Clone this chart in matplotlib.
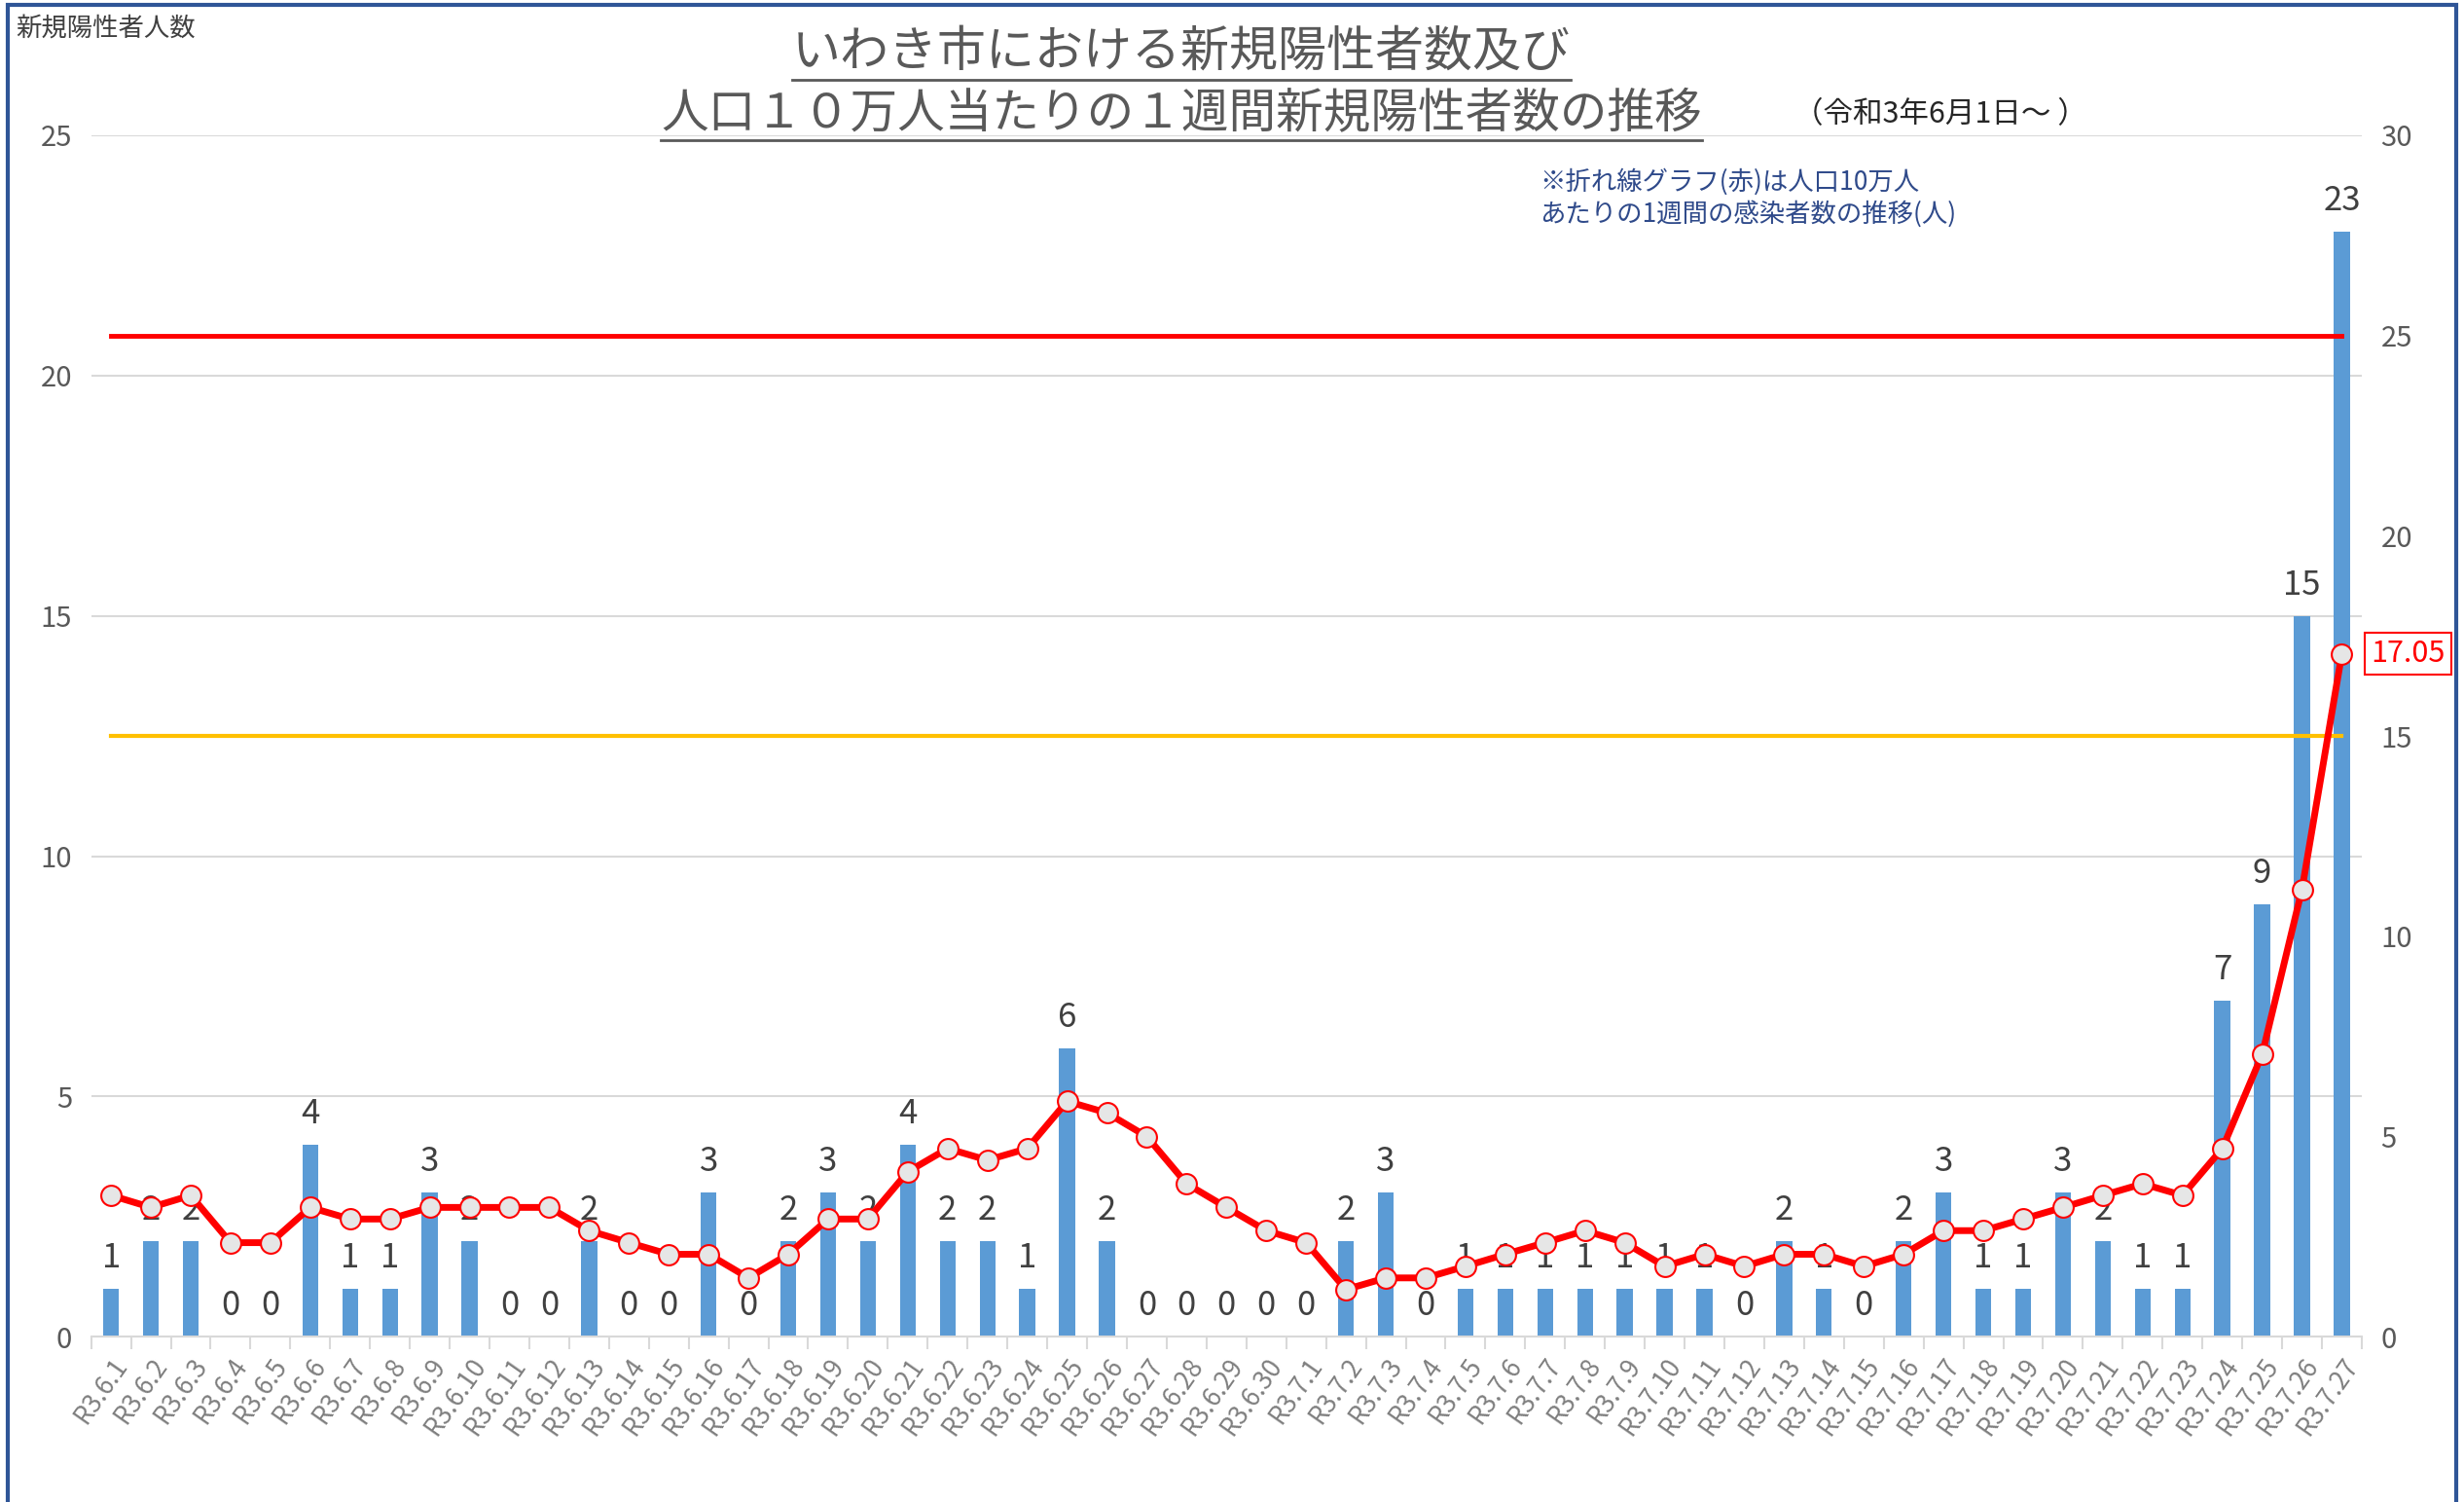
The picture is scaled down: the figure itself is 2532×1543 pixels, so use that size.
import matplotlib
matplotlib.use("Agg")
import matplotlib.pyplot as plt
from matplotlib.lines import Line2D
from matplotlib.patches import Rectangle
import numpy as np

plt.rcParams['font.family'] = ['Noto Sans CJK JP', 'DejaVu Sans']

# 日付ラベル
dates = (['R3.6.%d' % d for d in range(1, 31)] +
         ['R3.7.%d' % d for d in range(1, 28)])

# 新規陽性者数（日別）
cases = [1, 2, 2, 0, 0, 4, 1, 1, 3, 2, 0, 0, 2, 0, 0, 3, 0, 2, 3, 2,
         4, 2, 2, 1, 6, 2, 0, 0, 0, 0,
         0, 2, 3, 0, 1, 1, 1, 1, 1, 1, 1, 0, 2, 1, 0, 2, 3, 1, 1, 3,
         2, 1, 1, 7, 9, 15, 23]

# 人口10万人当たり1週間の新規陽性者数
weekly = [3.53, 3.23, 3.53, 2.35, 2.35, 3.23, 2.94, 2.94, 3.23, 3.23,
          3.23, 3.23, 2.65, 2.35, 2.06, 2.06, 1.47, 2.06, 2.94, 2.94,
          4.12, 4.70, 4.41, 4.70, 5.88, 5.59, 5.00, 3.82, 3.23, 2.65,
          2.35, 1.18, 1.47, 1.47, 1.76, 2.06, 2.35, 2.65, 2.35, 1.76,
          2.06, 1.76, 2.06, 2.06, 1.76, 2.06, 2.65, 2.65, 2.94, 3.23,
          3.53, 3.82, 3.53, 4.70, 7.05, 11.17, 17.05]

level_red = 25
level_orange = 15

x = np.arange(len(dates))

fig = plt.figure(figsize=(25.32, 15.43), dpi=100)
ax = fig.add_axes([0.037, 0.110, 0.9215, 0.800])
ax2 = ax.twinx()

gray = '#595959'

# 棒グラフ
ax.bar(x, cases, width=0.4, color='#5B9BD5', zorder=2)
ax.set_ylim(0, 25)
ax.set_xlim(-0.5, len(dates) - 0.5)
ax.set_yticks(range(0, 26, 5))
ax.grid(axis='y', color='#d9d9d9', linewidth=1.5, zorder=0)
ax.set_axisbelow(True)
for v, c in zip(x, cases):
    ax.annotate(str(c), (v, c), xytext=(0, 10), textcoords='offset points',
                ha='center', va='bottom', fontsize=25, color='#404040')

ax.set_xticks(x)
ax.set_xticklabels(dates, rotation=55, ha='right', va='top',
                   rotation_mode='anchor', fontsize=19, color='#7f7f7f')
ax.set_xticks(np.arange(-0.5, len(dates), 1), minor=True)
ax.tick_params(axis='x', which='major', length=0, pad=12)
ax.tick_params(axis='x', which='minor', length=9, color='#d9d9d9', width=1.5)
ax.tick_params(axis='y', length=0, labelsize=21, labelcolor=gray, pad=14)

for s in ['top', 'left', 'right']:
    ax.spines[s].set_visible(False)
    ax2.spines[s].set_visible(False)
ax.spines['bottom'].set_color('#d9d9d9')
ax.spines['bottom'].set_linewidth(1.5)
ax2.spines['bottom'].set_visible(False)

# 折れ線グラフ（右軸）
ax2.set_ylim(0, 30)
ax2.set_yticks(range(0, 31, 5))
ax2.tick_params(axis='y', length=0, labelsize=21, labelcolor=gray, pad=14)
ax2.plot([x[0], x[-1]], [level_red, level_red], color='#FF0000', lw=3.5, zorder=3)
ax2.plot([x[0], x[-1]], [level_orange, level_orange], color='#FFC000', lw=3, zorder=3)
ax2.plot(x, weekly, color='#FF0000', lw=5, marker='o', markersize=15,
         markerfacecolor='#E6E6E6', markeredgecolor='#FF0000',
         markeredgewidth=1.5, zorder=4)
ax2.annotate('%.2f' % weekly[-1], (x[-1], weekly[-1]), xytext=(49, 0),
             textcoords='offset points', ha='center', va='center',
             fontsize=22, color='#FF0000',
             bbox=dict(boxstyle='square,pad=0.2', fc='white', ec='#FF0000', lw=1.5))

# テキスト
t1 = fig.text(0.4795, 0.965, 'いわき市における新規陽性者数及び', ha='center',
              va='center', fontsize=36, color=gray)
t2 = fig.text(0.4795, 0.924, '人口１０万人当たりの１週間新規陽性者数の推移',
              ha='center', va='center', fontsize=35, color=gray)
fig.text(0.728, 0.924, '（令和3年6月1日～ ）', ha='left', va='center',
         fontsize=22, color='#262626')
fig.text(0.0065, 0.981, '新規陽性者人数', ha='left', va='center',
         fontsize=19, color='#404040')
fig.text(0.625, 0.888, '※折れ線グラフ(赤)は人口10万人\nあたりの1週間の感染者数の推移(人)',
         ha='left', va='top', fontsize=19, color='#2F4A8A', linespacing=1.25)

# タイトルの下線
fig.canvas.draw()
r = fig.canvas.get_renderer()
for t in (t1, t2):
    bb = t.get_window_extent(renderer=r)
    x0, x1 = bb.x0 / fig.bbox.width, bb.x1 / fig.bbox.width
    y0 = (bb.y0 - 2) / fig.bbox.height
    fig.add_artist(Line2D([x0, x1], [y0, y0], color=gray, lw=2))

# 外枠
fig.add_artist(Rectangle((0.003, -0.02), 0.994, 1.017, fill=False,
                         ec='#2F5597', lw=3, transform=fig.transFigure))

fig.savefig('out.png', dpi=100)
